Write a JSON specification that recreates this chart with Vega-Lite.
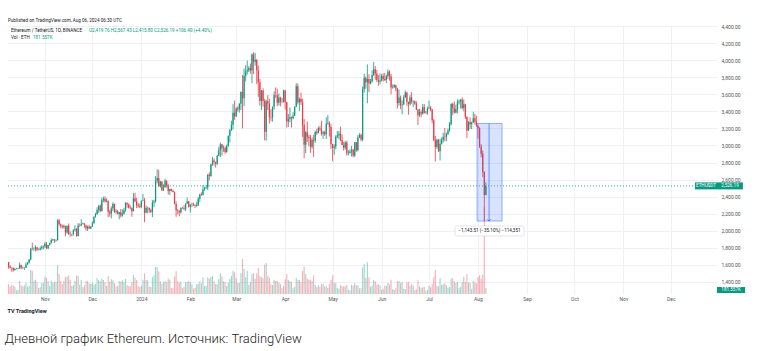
{
"$schema": "https://vega.github.io/schema/vega-lite/v6.json",
"width": 710, "height": 268,
"autosize": {"type": "none"},
"padding": {"left": 7, "top": 26, "right": 40, "bottom": 57},
"background": "white",
"config": {"view": {"stroke": null}, "font": "Roboto"},
"title": {"text": "Дневной график Ethereum. Источник: TradingView", "orient": "bottom", "anchor": "start", "fontSize": 13, "fontWeight": 300, "color": "#222222", "font": "Roboto", "offset": 19, "dx": -2},
"datasets": {
"candles": [
{"date":"2023-10-09","open":1633,"high":1634,"low":1553,"close":1580,"volume":290},
{"date":"2023-10-10","open":1580,"high":1596,"low":1557,"close":1567,"volume":220},
{"date":"2023-10-11","open":1567,"high":1573,"low":1521,"close":1566,"volume":280},
{"date":"2023-10-12","open":1566,"high":1568,"low":1521,"close":1539,"volume":250},
{"date":"2023-10-13","open":1539,"high":1566,"low":1533,"close":1553,"volume":220},
{"date":"2023-10-14","open":1553,"high":1566,"low":1548,"close":1555,"volume":110},
{"date":"2023-10-15","open":1555,"high":1566,"low":1547,"close":1557,"volume":120},
{"date":"2023-10-16","open":1557,"high":1628,"low":1555,"close":1600,"volume":390},
{"date":"2023-10-17","open":1600,"high":1603,"low":1550,"close":1567,"volume":260},
{"date":"2023-10-18","open":1567,"high":1580,"low":1553,"close":1564,"volume":230},
{"date":"2023-10-19","open":1564,"high":1572,"low":1540,"close":1566,"volume":260},
{"date":"2023-10-20","open":1566,"high":1629,"low":1563,"close":1605,"volume":340},
{"date":"2023-10-21","open":1605,"high":1636,"low":1600,"close":1628,"volume":220},
{"date":"2023-10-22","open":1628,"high":1670,"low":1615,"close":1663,"volume":240},
{"date":"2023-10-23","open":1663,"high":1800,"low":1653,"close":1790,"volume":720},
{"date":"2023-10-24","open":1790,"high":1860,"low":1772,"close":1785,"volume":700},
{"date":"2023-10-25","open":1785,"high":1806,"low":1766,"close":1787,"volume":400},
{"date":"2023-10-26","open":1787,"high":1830,"low":1760,"close":1807,"volume":430},
{"date":"2023-10-27","open":1807,"high":1808,"low":1760,"close":1779,"volume":350},
{"date":"2023-10-28","open":1779,"high":1792,"low":1771,"close":1777,"volume":180},
{"date":"2023-10-29","open":1777,"high":1816,"low":1770,"close":1796,"volume":200},
{"date":"2023-10-30","open":1796,"high":1830,"low":1780,"close":1810,"volume":330},
{"date":"2023-10-31","open":1810,"high":1827,"low":1781,"close":1815,"volume":340},
{"date":"2023-11-01","open":1815,"high":1871,"low":1796,"close":1847,"volume":520},
{"date":"2023-11-02","open":1847,"high":1868,"low":1783,"close":1796,"volume":480},
{"date":"2023-11-03","open":1796,"high":1834,"low":1782,"close":1832,"volume":380},
{"date":"2023-11-04","open":1832,"high":1862,"low":1825,"close":1857,"volume":250},
{"date":"2023-11-05","open":1857,"high":1912,"low":1850,"close":1893,"volume":400},
{"date":"2023-11-06","open":1893,"high":1905,"low":1880,"close":1899,"volume":330},
{"date":"2023-11-07","open":1899,"high":1903,"low":1857,"close":1887,"volume":370},
{"date":"2023-11-08","open":1887,"high":1900,"low":1870,"close":1890,"volume":360},
{"date":"2023-11-09","open":1890,"high":2135,"low":1885,"close":2122,"volume":870},
{"date":"2023-11-10","open":2122,"high":2138,"low":2060,"close":2077,"volume":600},
{"date":"2023-11-11","open":2077,"high":2085,"low":2030,"close":2052,"volume":400},
{"date":"2023-11-12","open":2052,"high":2070,"low":2025,"close":2045,"volume":300},
{"date":"2023-11-13","open":2045,"high":2075,"low":2025,"close":2055,"volume":400},
{"date":"2023-11-14","open":2055,"high":2060,"low":1935,"close":1980,"volume":520},
{"date":"2023-11-15","open":1980,"high":2060,"low":1965,"close":2058,"volume":520},
{"date":"2023-11-16","open":2058,"high":2085,"low":1950,"close":1962,"volume":560},
{"date":"2023-11-17","open":1962,"high":1993,"low":1930,"close":1961,"volume":420},
{"date":"2023-11-18","open":1961,"high":1967,"low":1935,"close":1962,"volume":240},
{"date":"2023-11-19","open":1962,"high":2015,"low":1943,"close":2011,"volume":260},
{"date":"2023-11-20","open":2011,"high":2065,"low":1990,"close":2023,"volume":400},
{"date":"2023-11-21","open":2023,"high":2030,"low":1930,"close":1940,"volume":560},
{"date":"2023-11-22","open":1940,"high":2090,"low":1935,"close":2063,"volume":550},
{"date":"2023-11-23","open":2063,"high":2085,"low":2045,"close":2062,"volume":280},
{"date":"2023-11-24","open":2062,"high":2135,"low":2055,"close":2080,"volume":420},
{"date":"2023-11-25","open":2080,"high":2095,"low":2075,"close":2084,"volume":200},
{"date":"2023-11-26","open":2084,"high":2090,"low":2035,"close":2062,"volume":260},
{"date":"2023-11-27","open":2062,"high":2071,"low":2000,"close":2027,"volume":380},
{"date":"2023-11-28","open":2027,"high":2062,"low":1998,"close":2048,"volume":400},
{"date":"2023-11-29","open":2048,"high":2070,"low":2020,"close":2028,"volume":320},
{"date":"2023-11-30","open":2028,"high":2053,"low":2020,"close":2051,"volume":300},
{"date":"2023-12-01","open":2051,"high":2110,"low":2044,"close":2088,"volume":340},
{"date":"2023-12-02","open":2088,"high":2170,"low":2083,"close":2165,"volume":280},
{"date":"2023-12-03","open":2165,"high":2210,"low":2155,"close":2193,"volume":300},
{"date":"2023-12-04","open":2193,"high":2275,"low":2190,"close":2243,"volume":480},
{"date":"2023-12-05","open":2243,"high":2300,"low":2210,"close":2292,"volume":420},
{"date":"2023-12-06","open":2292,"high":2310,"low":2220,"close":2232,"volume":380},
{"date":"2023-12-07","open":2232,"high":2385,"low":2225,"close":2358,"volume":460},
{"date":"2023-12-08","open":2358,"high":2400,"low":2335,"close":2375,"volume":420},
{"date":"2023-12-09","open":2375,"high":2403,"low":2330,"close":2342,"volume":350},
{"date":"2023-12-10","open":2342,"high":2380,"low":2335,"close":2352,"volume":250},
{"date":"2023-12-11","open":2352,"high":2355,"low":2160,"close":2225,"volume":540},
{"date":"2023-12-12","open":2225,"high":2245,"low":2165,"close":2202,"volume":370},
{"date":"2023-12-13","open":2202,"high":2285,"low":2145,"close":2260,"volume":440},
{"date":"2023-12-14","open":2260,"high":2335,"low":2230,"close":2315,"volume":410},
{"date":"2023-12-15","open":2315,"high":2320,"low":2210,"close":2220,"volume":330},
{"date":"2023-12-16","open":2220,"high":2255,"low":2200,"close":2228,"volume":220},
{"date":"2023-12-17","open":2228,"high":2245,"low":2190,"close":2197,"volume":240},
{"date":"2023-12-18","open":2197,"high":2220,"low":2135,"close":2218,"volume":390},
{"date":"2023-12-19","open":2218,"high":2255,"low":2155,"close":2178,"volume":370},
{"date":"2023-12-20","open":2178,"high":2250,"low":2165,"close":2200,"volume":410},
{"date":"2023-12-21","open":2200,"high":2270,"low":2190,"close":2240,"volume":350},
{"date":"2023-12-22","open":2240,"high":2335,"low":2225,"close":2327,"volume":450},
{"date":"2023-12-23","open":2327,"high":2330,"low":2270,"close":2308,"volume":260},
{"date":"2023-12-24","open":2308,"high":2320,"low":2260,"close":2270,"volume":240},
{"date":"2023-12-25","open":2270,"high":2300,"low":2250,"close":2268,"volume":230},
{"date":"2023-12-26","open":2268,"high":2275,"low":2165,"close":2230,"volume":370},
{"date":"2023-12-27","open":2230,"high":2445,"low":2225,"close":2380,"volume":570},
{"date":"2023-12-28","open":2380,"high":2445,"low":2335,"close":2345,"volume":490},
{"date":"2023-12-29","open":2345,"high":2385,"low":2265,"close":2298,"volume":420},
{"date":"2023-12-30","open":2298,"high":2325,"low":2270,"close":2290,"volume":230},
{"date":"2023-12-31","open":2290,"high":2320,"low":2265,"close":2281,"volume":210},
{"date":"2024-01-01","open":2281,"high":2355,"low":2265,"close":2352,"volume":250},
{"date":"2024-01-02","open":2352,"high":2430,"low":2345,"close":2355,"volume":430},
{"date":"2024-01-03","open":2355,"high":2385,"low":2100,"close":2210,"volume":620},
{"date":"2024-01-04","open":2210,"high":2295,"low":2205,"close":2268,"volume":430},
{"date":"2024-01-05","open":2268,"high":2280,"low":2205,"close":2269,"volume":410},
{"date":"2024-01-06","open":2269,"high":2270,"low":2210,"close":2240,"volume":220},
{"date":"2024-01-07","open":2240,"high":2260,"low":2210,"close":2221,"volume":210},
{"date":"2024-01-08","open":2221,"high":2360,"low":2160,"close":2331,"volume":500},
{"date":"2024-01-09","open":2331,"high":2365,"low":2275,"close":2344,"volume":560},
{"date":"2024-01-10","open":2344,"high":2640,"low":2330,"close":2585,"volume":820},
{"date":"2024-01-11","open":2585,"high":2720,"low":2555,"close":2620,"volume":800},
{"date":"2024-01-12","open":2620,"high":2715,"low":2515,"close":2521,"volume":680},
{"date":"2024-01-13","open":2521,"high":2585,"low":2505,"close":2577,"volume":380},
{"date":"2024-01-14","open":2577,"high":2580,"low":2470,"close":2472,"volume":310},
{"date":"2024-01-15","open":2472,"high":2545,"low":2470,"close":2510,"volume":360},
{"date":"2024-01-16","open":2510,"high":2610,"low":2505,"close":2587,"volume":400},
{"date":"2024-01-17","open":2587,"high":2590,"low":2505,"close":2530,"volume":360},
{"date":"2024-01-18","open":2530,"high":2550,"low":2425,"close":2467,"volume":470},
{"date":"2024-01-19","open":2467,"high":2490,"low":2420,"close":2489,"volume":430},
{"date":"2024-01-20","open":2489,"high":2495,"low":2460,"close":2470,"volume":190},
{"date":"2024-01-21","open":2470,"high":2480,"low":2450,"close":2455,"volume":170},
{"date":"2024-01-22","open":2455,"high":2460,"low":2310,"close":2315,"volume":530},
{"date":"2024-01-23","open":2315,"high":2345,"low":2165,"close":2242,"volume":680},
{"date":"2024-01-24","open":2242,"high":2255,"low":2195,"close":2235,"volume":380},
{"date":"2024-01-25","open":2235,"high":2240,"low":2170,"close":2218,"volume":340},
{"date":"2024-01-26","open":2218,"high":2275,"low":2200,"close":2268,"volume":380},
{"date":"2024-01-27","open":2268,"high":2280,"low":2255,"close":2267,"volume":190},
{"date":"2024-01-28","open":2267,"high":2300,"low":2240,"close":2258,"volume":220},
{"date":"2024-01-29","open":2258,"high":2320,"low":2230,"close":2318,"volume":360},
{"date":"2024-01-30","open":2318,"high":2390,"low":2315,"close":2343,"volume":360},
{"date":"2024-01-31","open":2343,"high":2350,"low":2270,"close":2283,"volume":400},
{"date":"2024-02-01","open":2283,"high":2310,"low":2215,"close":2304,"volume":360},
{"date":"2024-02-02","open":2304,"high":2330,"low":2280,"close":2309,"volume":290},
{"date":"2024-02-03","open":2309,"high":2330,"low":2290,"close":2297,"volume":160},
{"date":"2024-02-04","open":2297,"high":2310,"low":2265,"close":2290,"volume":190},
{"date":"2024-02-05","open":2290,"high":2340,"low":2280,"close":2299,"volume":300},
{"date":"2024-02-06","open":2299,"high":2395,"low":2290,"close":2372,"volume":310},
{"date":"2024-02-07","open":2372,"high":2435,"low":2340,"close":2424,"volume":380},
{"date":"2024-02-08","open":2424,"high":2450,"low":2410,"close":2419,"volume":320},
{"date":"2024-02-09","open":2419,"high":2535,"low":2415,"close":2485,"volume":500},
{"date":"2024-02-10","open":2485,"high":2515,"low":2470,"close":2500,"volume":240},
{"date":"2024-02-11","open":2500,"high":2535,"low":2490,"close":2507,"volume":240},
{"date":"2024-02-12","open":2507,"high":2665,"low":2475,"close":2658,"volume":500},
{"date":"2024-02-13","open":2658,"high":2685,"low":2590,"close":2643,"volume":460},
{"date":"2024-02-14","open":2643,"high":2785,"low":2633,"close":2778,"volume":510},
{"date":"2024-02-15","open":2778,"high":2865,"low":2760,"close":2823,"volume":540},
{"date":"2024-02-16","open":2823,"high":2850,"low":2765,"close":2802,"volume":380},
{"date":"2024-02-17","open":2802,"high":2810,"low":2740,"close":2785,"volume":300},
{"date":"2024-02-18","open":2785,"high":2890,"low":2770,"close":2880,"volume":290},
{"date":"2024-02-19","open":2880,"high":2985,"low":2875,"close":2945,"volume":440},
{"date":"2024-02-20","open":2945,"high":3035,"low":2865,"close":3013,"volume":620},
{"date":"2024-02-21","open":3013,"high":3015,"low":2880,"close":2965,"volume":530},
{"date":"2024-02-22","open":2965,"high":3000,"low":2925,"close":2970,"volume":380},
{"date":"2024-02-23","open":2970,"high":2990,"low":2900,"close":2922,"volume":360},
{"date":"2024-02-24","open":2922,"high":3010,"low":2915,"close":2992,"volume":240},
{"date":"2024-02-25","open":2992,"high":3115,"low":2985,"close":3113,"volume":340},
{"date":"2024-02-26","open":3113,"high":3195,"low":3035,"close":3178,"volume":460},
{"date":"2024-02-27","open":3178,"high":3290,"low":3170,"close":3243,"volume":540},
{"date":"2024-02-28","open":3243,"high":3485,"low":3185,"close":3384,"volume":700},
{"date":"2024-02-29","open":3384,"high":3525,"low":3300,"close":3341,"volume":650},
{"date":"2024-03-01","open":3341,"high":3450,"low":3335,"close":3433,"volume":480},
{"date":"2024-03-02","open":3433,"high":3460,"low":3395,"close":3421,"volume":340},
{"date":"2024-03-03","open":3421,"high":3495,"low":3385,"close":3488,"volume":330},
{"date":"2024-03-04","open":3488,"high":3630,"low":3415,"close":3628,"volume":620},
{"date":"2024-03-05","open":3628,"high":3825,"low":3200,"close":3553,"volume":1050},
{"date":"2024-03-06","open":3553,"high":3900,"low":3460,"close":3816,"volume":760},
{"date":"2024-03-07","open":3816,"high":3940,"low":3750,"close":3868,"volume":500},
{"date":"2024-03-08","open":3868,"high":3995,"low":3830,"close":3882,"volume":700},
{"date":"2024-03-09","open":3882,"high":3930,"low":3860,"close":3908,"volume":280},
{"date":"2024-03-10","open":3908,"high":3960,"low":3840,"close":3878,"volume":360},
{"date":"2024-03-11","open":3878,"high":4080,"low":3730,"close":4066,"volume":600},
{"date":"2024-03-12","open":4066,"high":4093,"low":3835,"close":3981,"volume":620},
{"date":"2024-03-13","open":3981,"high":4085,"low":3935,"close":4004,"volume":460},
{"date":"2024-03-14","open":4004,"high":4010,"low":3720,"close":3881,"volume":620},
{"date":"2024-03-15","open":3881,"high":3935,"low":3570,"close":3741,"volume":780},
{"date":"2024-03-16","open":3741,"high":3780,"low":3465,"close":3521,"volume":540},
{"date":"2024-03-17","open":3521,"high":3650,"low":3415,"close":3645,"volume":500},
{"date":"2024-03-18","open":3645,"high":3670,"low":3455,"close":3520,"volume":480},
{"date":"2024-03-19","open":3520,"high":3545,"low":3060,"close":3160,"volume":880},
{"date":"2024-03-20","open":3160,"high":3535,"low":3055,"close":3517,"volume":930},
{"date":"2024-03-21","open":3517,"high":3590,"low":3415,"close":3493,"volume":540},
{"date":"2024-03-22","open":3493,"high":3545,"low":3255,"close":3331,"volume":480},
{"date":"2024-03-23","open":3331,"high":3425,"low":3285,"close":3329,"volume":290},
{"date":"2024-03-24","open":3329,"high":3455,"low":3280,"close":3454,"volume":270},
{"date":"2024-03-25","open":3454,"high":3635,"low":3420,"close":3590,"volume":430},
{"date":"2024-03-26","open":3590,"high":3680,"low":3555,"close":3587,"volume":390},
{"date":"2024-03-27","open":3587,"high":3665,"low":3460,"close":3500,"volume":390},
{"date":"2024-03-28","open":3500,"high":3610,"low":3470,"close":3561,"volume":340},
{"date":"2024-03-29","open":3561,"high":3570,"low":3460,"close":3510,"volume":290},
{"date":"2024-03-30","open":3510,"high":3560,"low":3495,"close":3508,"volume":180},
{"date":"2024-03-31","open":3508,"high":3655,"low":3505,"close":3645,"volume":240},
{"date":"2024-04-01","open":3645,"high":3650,"low":3420,"close":3505,"volume":440},
{"date":"2024-04-02","open":3505,"high":3510,"low":3210,"close":3280,"volume":600},
{"date":"2024-04-03","open":3280,"high":3370,"low":3215,"close":3310,"volume":420},
{"date":"2024-04-04","open":3310,"high":3445,"low":3270,"close":3331,"volume":390},
{"date":"2024-04-05","open":3331,"high":3340,"low":3210,"close":3319,"volume":360},
{"date":"2024-04-06","open":3319,"high":3390,"low":3305,"close":3352,"volume":170},
{"date":"2024-04-07","open":3352,"high":3460,"low":3345,"close":3454,"volume":220},
{"date":"2024-04-08","open":3454,"high":3730,"low":3450,"close":3695,"volume":490},
{"date":"2024-04-09","open":3695,"high":3725,"low":3480,"close":3506,"volume":410},
{"date":"2024-04-10","open":3506,"high":3560,"low":3405,"close":3545,"volume":420},
{"date":"2024-04-11","open":3545,"high":3620,"low":3475,"close":3505,"volume":350},
{"date":"2024-04-12","open":3505,"high":3550,"low":3100,"close":3240,"volume":700},
{"date":"2024-04-13","open":3240,"high":3310,"low":2850,"close":3007,"volume":820},
{"date":"2024-04-14","open":3007,"high":3170,"low":2910,"close":3156,"volume":600},
{"date":"2024-04-15","open":3156,"high":3280,"low":3040,"close":3101,"volume":460},
{"date":"2024-04-16","open":3101,"high":3125,"low":2990,"close":3085,"volume":430},
{"date":"2024-04-17","open":3085,"high":3125,"low":2915,"close":2985,"volume":430},
{"date":"2024-04-18","open":2985,"high":3095,"low":2960,"close":3067,"volume":400},
{"date":"2024-04-19","open":3067,"high":3125,"low":2865,"close":3056,"volume":560},
{"date":"2024-04-20","open":3056,"high":3175,"low":3030,"close":3157,"volume":280},
{"date":"2024-04-21","open":3157,"high":3195,"low":3120,"close":3147,"volume":200},
{"date":"2024-04-22","open":3147,"high":3220,"low":3140,"close":3201,"volume":260},
{"date":"2024-04-23","open":3201,"high":3230,"low":3170,"close":3186,"volume":220},
{"date":"2024-04-24","open":3186,"high":3290,"low":3115,"close":3137,"volume":300},
{"date":"2024-04-25","open":3137,"high":3170,"low":3075,"close":3156,"volume":300},
{"date":"2024-04-26","open":3156,"high":3175,"low":3110,"close":3131,"volume":220},
{"date":"2024-04-27","open":3131,"high":3330,"low":3075,"close":3254,"volume":250},
{"date":"2024-04-28","open":3254,"high":3355,"low":3245,"close":3263,"volume":180},
{"date":"2024-04-29","open":3263,"high":3285,"low":3105,"close":3215,"volume":300},
{"date":"2024-04-30","open":3215,"high":3250,"low":2960,"close":3014,"volume":420},
{"date":"2024-05-01","open":3014,"high":3020,"low":2815,"close":2972,"volume":560},
{"date":"2024-05-02","open":2972,"high":3015,"low":2890,"close":2988,"volume":340},
{"date":"2024-05-03","open":2988,"high":3120,"low":2955,"close":3102,"volume":320},
{"date":"2024-05-04","open":3102,"high":3170,"low":3085,"close":3117,"volume":180},
{"date":"2024-05-05","open":3117,"high":3170,"low":3070,"close":3136,"volume":160},
{"date":"2024-05-06","open":3136,"high":3220,"low":3050,"close":3063,"volume":260},
{"date":"2024-05-07","open":3063,"high":3130,"low":3005,"close":3006,"volume":240},
{"date":"2024-05-08","open":3006,"high":3040,"low":2940,"close":2973,"volume":230},
{"date":"2024-05-09","open":2973,"high":3055,"low":2950,"close":3036,"volume":230},
{"date":"2024-05-10","open":3036,"high":3055,"low":2880,"close":2909,"volume":280},
{"date":"2024-05-11","open":2909,"high":2945,"low":2885,"close":2912,"volume":130},
{"date":"2024-05-12","open":2912,"high":2955,"low":2905,"close":2930,"volume":110},
{"date":"2024-05-13","open":2930,"high":2995,"low":2870,"close":2950,"volume":280},
{"date":"2024-05-14","open":2950,"high":2960,"low":2860,"close":2881,"volume":250},
{"date":"2024-05-15","open":2881,"high":3040,"low":2865,"close":3037,"volume":320},
{"date":"2024-05-16","open":3037,"high":3040,"low":2925,"close":2945,"volume":260},
{"date":"2024-05-17","open":2945,"high":3120,"low":2930,"close":3093,"volume":260},
{"date":"2024-05-18","open":3093,"high":3145,"low":3085,"close":3123,"volume":170},
{"date":"2024-05-19","open":3123,"high":3140,"low":3050,"close":3071,"volume":170},
{"date":"2024-05-20","open":3071,"high":3690,"low":3050,"close":3662,"volume":800},
{"date":"2024-05-21","open":3662,"high":3840,"low":3620,"close":3790,"volume":900},
{"date":"2024-05-22","open":3790,"high":3810,"low":3665,"close":3740,"volume":480},
{"date":"2024-05-23","open":3740,"high":3950,"low":3495,"close":3780,"volume":950},
{"date":"2024-05-24","open":3780,"high":3835,"low":3625,"close":3726,"volume":500},
{"date":"2024-05-25","open":3726,"high":3780,"low":3715,"close":3749,"volume":220},
{"date":"2024-05-26","open":3749,"high":3880,"low":3735,"close":3826,"volume":250},
{"date":"2024-05-27","open":3826,"high":3980,"low":3815,"close":3893,"volume":420},
{"date":"2024-05-28","open":3893,"high":3930,"low":3770,"close":3842,"volume":380},
{"date":"2024-05-29","open":3842,"high":3885,"low":3745,"close":3767,"volume":270},
{"date":"2024-05-30","open":3767,"high":3825,"low":3700,"close":3746,"volume":300},
{"date":"2024-05-31","open":3746,"high":3845,"low":3715,"close":3761,"volume":260},
{"date":"2024-06-01","open":3761,"high":3835,"low":3750,"close":3815,"volume":130},
{"date":"2024-06-02","open":3815,"high":3845,"low":3750,"close":3780,"volume":160},
{"date":"2024-06-03","open":3780,"high":3850,"low":3755,"close":3767,"volume":250},
{"date":"2024-06-04","open":3767,"high":3830,"low":3730,"close":3811,"volume":250},
{"date":"2024-06-05","open":3811,"high":3890,"low":3780,"close":3865,"volume":330},
{"date":"2024-06-06","open":3865,"high":3880,"low":3760,"close":3812,"volume":290},
{"date":"2024-06-07","open":3812,"high":3840,"low":3600,"close":3679,"volume":430},
{"date":"2024-06-08","open":3679,"high":3715,"low":3665,"close":3682,"volume":150},
{"date":"2024-06-09","open":3682,"high":3720,"low":3675,"close":3705,"volume":120},
{"date":"2024-06-10","open":3705,"high":3710,"low":3635,"close":3667,"volume":170},
{"date":"2024-06-11","open":3667,"high":3675,"low":3435,"close":3497,"volume":380},
{"date":"2024-06-12","open":3497,"high":3655,"low":3465,"close":3561,"volume":390},
{"date":"2024-06-13","open":3561,"high":3585,"low":3425,"close":3470,"volume":330},
{"date":"2024-06-14","open":3470,"high":3530,"low":3365,"close":3480,"volume":360},
{"date":"2024-06-15","open":3480,"high":3590,"low":3475,"close":3567,"volume":160},
{"date":"2024-06-16","open":3567,"high":3645,"low":3555,"close":3620,"volume":150},
{"date":"2024-06-17","open":3620,"high":3630,"low":3465,"close":3509,"volume":350},
{"date":"2024-06-18","open":3509,"high":3515,"low":3360,"close":3483,"volume":370},
{"date":"2024-06-19","open":3483,"high":3590,"low":3470,"close":3561,"volume":250},
{"date":"2024-06-20","open":3561,"high":3625,"low":3490,"close":3514,"volume":300},
{"date":"2024-06-21","open":3514,"high":3530,"low":3450,"close":3519,"volume":250},
{"date":"2024-06-22","open":3519,"high":3525,"low":3475,"close":3493,"volume":110},
{"date":"2024-06-23","open":3493,"high":3520,"low":3415,"close":3419,"volume":140},
{"date":"2024-06-24","open":3419,"high":3430,"low":3240,"close":3353,"volume":410},
{"date":"2024-06-25","open":3353,"high":3430,"low":3335,"close":3392,"volume":230},
{"date":"2024-06-26","open":3392,"high":3420,"low":3330,"close":3371,"volume":190},
{"date":"2024-06-27","open":3371,"high":3485,"low":3360,"close":3450,"volume":200},
{"date":"2024-06-28","open":3450,"high":3485,"low":3375,"close":3380,"volume":220},
{"date":"2024-06-29","open":3380,"high":3405,"low":3370,"close":3378,"volume":80},
{"date":"2024-06-30","open":3378,"high":3455,"low":3360,"close":3433,"volume":130},
{"date":"2024-07-01","open":3433,"high":3525,"low":3425,"close":3441,"volume":250},
{"date":"2024-07-02","open":3441,"high":3465,"low":3400,"close":3420,"volume":200},
{"date":"2024-07-03","open":3420,"high":3430,"low":3260,"close":3295,"volume":300},
{"date":"2024-07-04","open":3295,"high":3310,"low":3050,"close":3060,"volume":500},
{"date":"2024-07-05","open":3060,"high":3110,"low":2810,"close":2981,"volume":720},
{"date":"2024-07-06","open":2981,"high":3080,"low":2960,"close":3066,"volume":250},
{"date":"2024-07-07","open":3066,"high":3075,"low":2925,"close":2931,"volume":230},
{"date":"2024-07-08","open":2931,"high":3080,"low":2825,"close":3019,"volume":470},
{"date":"2024-07-09","open":3019,"high":3095,"low":3010,"close":3066,"volume":280},
{"date":"2024-07-10","open":3066,"high":3150,"low":3035,"close":3101,"volume":290},
{"date":"2024-07-11","open":3101,"high":3205,"low":3050,"close":3100,"volume":320},
{"date":"2024-07-12","open":3100,"high":3150,"low":3050,"close":3133,"volume":260},
{"date":"2024-07-13","open":3133,"high":3200,"low":3120,"close":3175,"volume":180},
{"date":"2024-07-14","open":3175,"high":3275,"low":3160,"close":3248,"volume":210},
{"date":"2024-07-15","open":3248,"high":3495,"low":3235,"close":3485,"volume":460},
{"date":"2024-07-16","open":3485,"high":3500,"low":3355,"close":3443,"volume":480},
{"date":"2024-07-17","open":3443,"high":3515,"low":3375,"close":3387,"volume":380},
{"date":"2024-07-18","open":3387,"high":3480,"low":3375,"close":3427,"volume":330},
{"date":"2024-07-19","open":3427,"high":3540,"low":3375,"close":3505,"volume":370},
{"date":"2024-07-20","open":3505,"high":3540,"low":3480,"close":3518,"volume":170},
{"date":"2024-07-21","open":3518,"high":3545,"low":3430,"close":3536,"volume":210},
{"date":"2024-07-22","open":3536,"high":3563,"low":3422,"close":3440,"volume":360},
{"date":"2024-07-23","open":3440,"high":3540,"low":3400,"close":3482,"volume":520},
{"date":"2024-07-24","open":3482,"high":3490,"low":3310,"close":3336,"volume":360},
{"date":"2024-07-25","open":3336,"high":3340,"low":3087,"close":3174,"volume":600},
{"date":"2024-07-26","open":3174,"high":3285,"low":3170,"close":3275,"volume":350},
{"date":"2024-07-27","open":3275,"high":3330,"low":3195,"close":3248,"volume":330},
{"date":"2024-07-28","open":3248,"high":3280,"low":3190,"close":3270,"volume":160},
{"date":"2024-07-29","open":3270,"high":3395,"low":3265,"close":3318,"volume":400},
{"date":"2024-07-30","open":3318,"high":3370,"low":3245,"close":3279,"volume":350},
{"date":"2024-07-31","open":3279,"high":3350,"low":3220,"close":3232,"volume":320},
{"date":"2024-08-01","open":3232,"high":3245,"low":3080,"close":3201,"volume":500},
{"date":"2024-08-02","open":3201,"high":3215,"low":2970,"close":2985,"volume":560},
{"date":"2024-08-03","open":2985,"high":3015,"low":2860,"close":2904,"volume":460},
{"date":"2024-08-04","open":2904,"high":2940,"low":2630,"close":2690,"volume":580},
{"date":"2024-08-05","open":2690,"high":2698,"low":2111,"close":2420,"volume":2600},
{"date":"2024-08-06","open":2420,"high":2567.43,"low":2415.8,"close":2526.19,"volume":181.557}
],
"current": [{"price": 2526.19}],
"header": [
{"date":"2023-10-08T14:00:00Z","price":4456,"text":"Published on TradingView.com, Aug 06, 2024 06:30 UTC","part":"label"},
{"date":"2023-10-10T12:00:00Z","price":4339,"text":"Ethereum / TetherUS, 1D, BINANCE","part":"label"},
{"date":"2023-11-28T20:00:00Z","price":4339,"text":"O2,419.76 H2,567.43 L2,415.80 C2,526.19 +106.40 (+4.40%)","part":"value"},
{"date":"2023-10-10T12:00:00Z","price":4257,"text":"Vol · ETH","part":"label"},
{"date":"2023-10-24T10:00:00Z","price":4257,"text":"181.557K","part":"value"}
],
"tags": [
{"t0":"2024-12-16T07:00:00Z","t1":"2024-12-30T05:00:00Z","tc":"2024-12-23T06:00:00Z","p0":2485,"p1":2567,"price":2526.19,"text":"ETHUSDT"},
{"t0":"2024-12-30T05:00:00Z","t1":"2025-01-15T14:00:00Z","tc":"2025-01-07T10:00:00Z","p0":2485,"p1":2567,"price":2526.19,"text":"2,526.19"},
{"t0":"2024-12-30T05:00:00Z","t1":"2025-01-17T00:00:00Z","tc":"2025-01-08T03:00:00Z","p0":1271,"p1":1341,"price":1306,"text":"181.557K"}
],
"range": [{"t0":"2024-07-31T09:00:00Z","t1":"2024-08-16T05:00:00Z","tm":"2024-08-08T00:00:00Z","top":3257.6,"bottom":2114.1}],
"rangeLabel": [{"t0":"2024-07-17T10:00:00Z","t1":"2024-08-30T02:00:00Z","tc":"2024-08-08T06:00:00Z","p0":1939,"p1":2056,"price":1997,"text":"−1,143.51 (−35.10%) −114,351"}]
},
"layer": [
{
"data": {"name": "candles"},
"mark": {"type": "bar", "width": 1.1, "opacity": 0.4},
"encoding": {
"x": {"field": "date", "type": "temporal",
"scale": {"type": "utc", "padding": 0, "domain": [{"year":2023,"month":10,"date":8,"utc":true},{"year":2024,"month":12,"date":30,"hours":5,"utc":true}]},
"axis": {"values": [{"year":2023,"month":11,"date":1,"utc":true},{"year":2023,"month":12,"date":1,"utc":true},{"year":2024,"month":1,"date":1,"utc":true},{"year":2024,"month":2,"date":1,"utc":true},{"year":2024,"month":3,"date":1,"utc":true},{"year":2024,"month":4,"date":1,"utc":true},{"year":2024,"month":5,"date":1,"utc":true},{"year":2024,"month":6,"date":1,"utc":true},{"year":2024,"month":7,"date":1,"utc":true},{"year":2024,"month":8,"date":1,"utc":true},{"year":2024,"month":9,"date":1,"utc":true},{"year":2024,"month":10,"date":1,"utc":true},{"year":2024,"month":11,"date":1,"utc":true},{"year":2024,"month":12,"date":1,"utc":true}],
"labelExpr": "utcmonth(datum.value) == 0 ? utcFormat(datum.value, '%Y') : utcFormat(datum.value, '%b')",
"title": "TV TradingView", "grid": true, "gridColor": "#eef0f5", "gridWidth": 1, "domain": false, "ticks": false,
"labelFontSize": 5, "labelColor": "#555555", "labelPadding": 2, "labelFont": "Roboto",
"titleFontSize": 5.5, "titleFontWeight": "bold", "titleColor": "#131722", "titleAnchor": "start", "titleAlign": "left", "titlePadding": 7, "titleFont": "Roboto"}},
"y": {"field": "volume", "type": "quantitative", "scale": {"domain": [0, 8040]}, "axis": null},
"color": {"condition": {"test": "datum.close >= datum.open", "value": "#089981"}, "value": "#F23645"}
}
},
{
"data": {"name": "candles"},
"mark": {"type": "rule", "strokeWidth": 0.8},
"encoding": {
"x": {"field": "date", "type": "temporal", "scale": {"type": "utc", "padding": 0, "domain": [{"year":2023,"month":10,"date":8,"utc":true},{"year":2024,"month":12,"date":30,"hours":5,"utc":true}]}},
"y": {"field": "low", "type": "quantitative", "scale": {"domain": [1259, 4400]},
"axis": {"orient": "right", "values": [1400,1600,1800,2000,2200,2400,2600,2800,3000,3200,3400,3600,3800,4000,4200,4400], "format": ",.2f", "grid": true, "gridColor": "#eef0f5", "gridWidth": 1, "domain": false, "ticks": false, "labelFontSize": 5, "labelColor": "#555555", "labelPadding": 4, "labelFont": "Roboto", "title": null}},
"y2": {"field": "high"},
"color": {"condition": {"test": "datum.close >= datum.open", "value": "#089981"}, "value": "#F23645"}
}
},
{
"data": {"name": "candles"},
"mark": {"type": "bar", "width": 1.2},
"encoding": {
"x": {"field": "date", "type": "temporal", "scale": {"type": "utc", "padding": 0, "domain": [{"year":2023,"month":10,"date":8,"utc":true},{"year":2024,"month":12,"date":30,"hours":5,"utc":true}]}},
"y": {"field": "open", "type": "quantitative", "scale": {"domain": [1259, 4400]}, "axis": null},
"y2": {"field": "close"},
"color": {"condition": {"test": "datum.close >= datum.open", "value": "#089981"}, "value": "#F23645"}
}
},
{
"data": {"name": "current"},
"mark": {"type": "rule", "stroke": "#089981", "strokeWidth": 0.8, "strokeDash": [1, 2]},
"encoding": {"y": {"field": "price", "type": "quantitative", "scale": {"domain": [1259, 4400]}, "axis": null}}
},
{
"data": {"name": "range"},
"mark": {"type": "rect", "fill": "#2962FF", "fillOpacity": 0.18, "stroke": "#2962FF", "strokeOpacity": 0.6, "strokeWidth": 0.8},
"encoding": {
"x": {"field": "t0", "type": "temporal", "scale": {"type": "utc", "padding": 0, "domain": [{"year":2023,"month":10,"date":8,"utc":true},{"year":2024,"month":12,"date":30,"hours":5,"utc":true}]}},
"x2": {"field": "t1"},
"y": {"field": "top", "type": "quantitative", "scale": {"domain": [1259, 4400]}, "axis": null},
"y2": {"field": "bottom"}
}
},
{
"data": {"name": "range"},
"mark": {"type": "rule", "stroke": "#2962FF", "strokeWidth": 0.8, "opacity": 0.8},
"encoding": {
"x": {"field": "tm", "type": "temporal", "scale": {"type": "utc", "padding": 0, "domain": [{"year":2023,"month":10,"date":8,"utc":true},{"year":2024,"month":12,"date":30,"hours":5,"utc":true}]}},
"y": {"field": "top", "type": "quantitative", "scale": {"domain": [1259, 4400]}, "axis": null},
"y2": {"field": "bottom"}
}
},
{
"data": {"name": "range"},
"mark": {"type": "point", "shape": "M-1,-1.2L0,0L1,-1.2", "filled": false, "stroke": "#2962FF", "strokeWidth": 0.8, "size": 9, "opacity": 0.9},
"encoding": {
"x": {"field": "tm", "type": "temporal", "scale": {"type": "utc", "padding": 0, "domain": [{"year":2023,"month":10,"date":8,"utc":true},{"year":2024,"month":12,"date":30,"hours":5,"utc":true}]}},
"y": {"field": "bottom", "type": "quantitative", "scale": {"domain": [1259, 4400]}, "axis": null}
}
},
{
"data": {"name": "rangeLabel"},
"mark": {"type": "rect", "fill": "white", "stroke": "#d1d4dc", "strokeWidth": 0.6, "cornerRadius": 1.5},
"encoding": {
"x": {"field": "t0", "type": "temporal", "scale": {"type": "utc", "padding": 0, "domain": [{"year":2023,"month":10,"date":8,"utc":true},{"year":2024,"month":12,"date":30,"hours":5,"utc":true}]}},
"x2": {"field": "t1"},
"y": {"field": "p0", "type": "quantitative", "scale": {"domain": [1259, 4400]}, "axis": null},
"y2": {"field": "p1"}
}
},
{
"data": {"name": "rangeLabel"},
"mark": {"type": "text", "fontSize": 4.6, "color": "#131722", "align": "center", "baseline": "middle", "font": "Roboto"},
"encoding": {
"x": {"field": "tc", "type": "temporal", "scale": {"type": "utc", "padding": 0, "domain": [{"year":2023,"month":10,"date":8,"utc":true},{"year":2024,"month":12,"date":30,"hours":5,"utc":true}]}},
"y": {"field": "price", "type": "quantitative", "scale": {"domain": [1259, 4400]}, "axis": null},
"text": {"field": "text"}
}
},
{
"data": {"name": "tags"},
"mark": {"type": "rect", "fill": "#089981"},
"encoding": {
"x": {"field": "t0", "type": "temporal", "scale": {"type": "utc", "padding": 0, "domain": [{"year":2023,"month":10,"date":8,"utc":true},{"year":2024,"month":12,"date":30,"hours":5,"utc":true}]}},
"x2": {"field": "t1"},
"y": {"field": "p0", "type": "quantitative", "scale": {"domain": [1259, 4400]}, "axis": null},
"y2": {"field": "p1"}
}
},
{
"data": {"name": "tags"},
"mark": {"type": "text", "fontSize": 4.6, "color": "white", "align": "center", "baseline": "middle", "font": "Roboto"},
"encoding": {
"x": {"field": "tc", "type": "temporal", "scale": {"type": "utc", "padding": 0, "domain": [{"year":2023,"month":10,"date":8,"utc":true},{"year":2024,"month":12,"date":30,"hours":5,"utc":true}]}},
"y": {"field": "price", "type": "quantitative", "scale": {"domain": [1259, 4400]}, "axis": null},
"text": {"field": "text"}
}
},
{
"data": {"name": "header"},
"mark": {"type": "text", "fontSize": 4.6, "align": "left", "baseline": "middle", "font": "Roboto"},
"encoding": {
"x": {"field": "date", "type": "temporal", "scale": {"type": "utc", "padding": 0, "domain": [{"year":2023,"month":10,"date":8,"utc":true},{"year":2024,"month":12,"date":30,"hours":5,"utc":true}]}},
"y": {"field": "price", "type": "quantitative", "scale": {"domain": [1259, 4400]}, "axis": null},
"text": {"field": "text"},
"color": {"condition": {"test": "datum.part == 'value'", "value": "#089981"}, "value": "#131722"}
}
}
],
"resolve": {"scale": {"y": "independent"}}
}
